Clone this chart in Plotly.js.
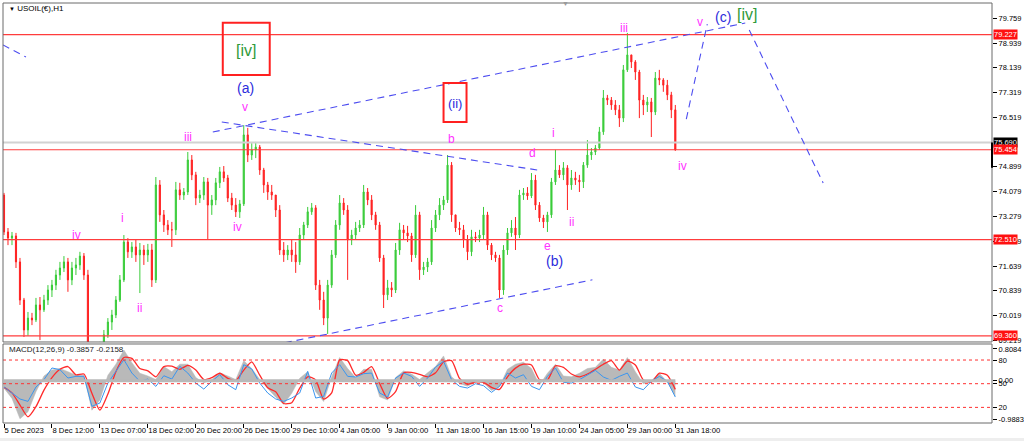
<!DOCTYPE html>
<html><head><meta charset="utf-8">
<script src="https://cdn.plot.ly/plotly-3.0.1.min.js"></script>
<style>html,body{margin:0;padding:0;background:#fff;}#chart{width:1024px;height:441px;}</style>
</head><body><div id="chart"></div>
<script>
// ---------- DATA ----------
const xTickLabels = ['5 Dec 2023','8 Dec 12:00','13 Dec 07:00','18 Dec 02:00','20 Dec 20:00','26 Dec 15:00','29 Dec 10:00','4 Jan 05:00','9 Jan 00:00','11 Jan 18:00','16 Jan 15:00','19 Jan 10:00','24 Jan 05:00','29 Jan 00:00','31 Jan 18:00'];
const xTickBars = [0,12,24,36,48,60,72,84,96,108,120,132,144,156,168];

const open = [73.97,72.76,72.56,72.63,71.78,70.53,69.55,69.94,69.88,70.37,
70.21,70.53,70.86,71.02,71.35,71.58,71.78,71.19,71.58,71.68,
71.97,71.35,69.06,68.73,68.83,69.06,69.39,69.81,70.04,70.53,
71.19,72.43,72.11,72.27,72.01,72.17,72.01,72.17,71.19,74.30,
73.32,72.99,72.83,72.83,74.14,73.97,74.07,75.12,74.63,73.87,
73.97,74.40,73.64,73.81,74.37,74.73,74.53,73.87,73.64,73.42,
73.68,75.94,75.28,75.45,75.54,74.79,74.30,74.07,73.97,73.48,
72.17,72.01,72.17,72.01,71.78,72.66,72.99,73.42,73.55,71.02,
70.53,69.94,71.02,72.01,72.99,73.71,73.48,72.50,72.66,72.89,
72.99,74.07,73.81,73.32,72.99,71.91,70.70,70.93,70.86,72.17,
72.83,72.73,72.63,72.01,73.32,71.52,71.61,71.78,72.89,73.32,
73.64,73.81,74.95,73.32,72.89,72.83,72.50,72.11,72.60,72.56,
72.66,73.32,72.33,72.01,71.91,70.86,72.17,72.73,72.89,72.66,
73.97,74.04,73.94,74.46,73.64,73.22,73.09,73.32,74.40,74.79,
74.63,74.86,74.30,74.53,74.46,74.40,74.95,75.28,75.38,75.51,
76.04,77.15,77.08,76.92,76.76,76.49,78.07,78.56,78.33,78.00,
77.08,76.92,77.02,76.69,77.80,77.74,77.57,77.25,76.76];
const high = [74.04,72.89,72.76,72.73,71.91,70.60,70.14,70.11,70.60,70.63,
70.70,71.02,71.19,71.52,71.78,71.97,71.91,71.78,71.91,72.11,
72.07,71.52,69.13,68.90,69.16,69.55,69.94,70.21,70.66,71.35,
72.66,72.56,72.43,72.50,72.40,72.33,72.37,72.37,74.56,74.46,
73.48,73.15,73.09,74.40,74.37,74.20,75.38,75.28,74.73,74.14,
74.56,74.53,73.97,74.53,74.89,74.92,74.63,74.04,73.87,73.81,
76.26,76.17,75.67,75.71,75.61,74.86,74.40,74.30,73.97,73.64,
72.43,72.33,72.50,72.43,72.89,73.09,73.58,73.71,73.64,71.19,
70.80,71.19,72.17,73.15,73.97,73.87,73.64,72.83,73.09,73.15,
74.30,74.20,73.97,73.42,73.09,72.01,71.19,71.12,72.40,73.06,
72.99,72.96,72.73,73.64,73.42,71.78,71.91,73.15,73.48,73.87,
73.94,75.28,75.05,73.32,73.09,72.99,72.66,72.83,72.76,72.83,
73.58,73.42,72.40,72.11,72.01,72.33,72.89,73.15,73.25,74.14,
74.20,74.23,74.69,74.63,73.74,73.32,73.42,74.53,75.45,74.95,
75.05,74.95,74.79,74.73,74.63,75.05,75.77,75.51,75.61,76.20,
77.41,77.25,77.18,77.08,76.92,78.23,79.28,78.56,78.39,78.07,
77.25,77.18,77.15,78.00,78.07,77.80,77.74,77.35,76.92];
const low = [72.66,72.33,72.33,71.58,70.37,69.32,69.36,69.71,69.81,69.22,
70.14,70.37,70.63,70.86,71.19,71.45,70.80,71.02,71.35,71.52,
71.19,68.90,68.57,68.50,68.63,68.96,69.29,69.55,69.94,70.47,
71.12,71.91,71.91,71.78,70.76,71.68,71.78,70.96,71.09,73.09,
72.76,72.66,72.27,72.66,73.81,73.81,73.97,74.46,73.64,73.71,
73.81,72.50,73.32,73.64,74.20,74.40,73.74,73.48,73.25,73.22,
73.61,75.05,75.12,75.18,74.63,74.04,73.81,73.81,73.25,72.01,
71.78,71.84,71.78,71.42,71.68,72.50,72.89,73.32,70.86,70.21,
69.71,69.42,70.93,71.91,72.83,73.32,71.19,72.33,72.50,72.76,
72.89,73.64,73.15,72.83,71.78,70.27,70.53,70.63,70.76,72.01,
72.50,72.43,71.78,71.91,71.19,71.35,71.45,71.68,72.76,73.15,
73.48,73.71,73.09,72.76,72.66,72.24,71.84,71.97,72.43,72.43,
72.50,72.17,71.84,71.78,70.60,70.70,72.01,72.60,72.17,72.56,
73.81,73.81,73.87,73.48,73.09,72.89,72.76,73.22,74.30,74.53,
74.46,73.48,74.14,74.30,74.07,74.20,74.86,75.12,75.28,75.45,
75.94,76.92,76.76,76.59,76.20,76.36,78.00,78.13,77.74,76.49,
76.59,76.69,75.87,76.59,77.57,77.35,77.08,76.49,75.42];
const close = [72.76,72.56,72.63,71.78,70.53,69.55,69.94,69.88,70.37,70.21,
70.53,70.86,71.02,71.35,71.58,71.78,71.19,71.58,71.68,71.97,
71.35,69.06,68.73,68.83,69.06,69.39,69.81,70.04,70.53,71.19,
72.43,72.11,72.27,72.01,72.17,72.01,72.17,71.19,74.30,73.32,
72.99,72.83,72.83,74.14,73.97,74.07,75.12,74.63,73.87,73.97,
74.40,73.64,73.81,74.37,74.73,74.53,73.87,73.64,73.42,73.68,
75.94,75.28,75.45,75.54,74.79,74.30,74.07,73.97,73.48,72.17,
72.01,72.17,72.01,71.78,72.66,72.99,73.42,73.55,71.02,70.53,
69.94,71.02,72.01,72.99,73.71,73.48,72.50,72.66,72.89,72.99,
74.07,73.81,73.32,72.99,71.91,70.70,70.93,70.86,72.17,72.83,
72.73,72.63,72.01,73.32,71.52,71.61,71.78,72.89,73.32,73.64,
73.81,74.95,73.32,72.89,72.83,72.50,72.11,72.60,72.56,72.66,
73.32,72.33,72.01,71.91,70.86,72.17,72.73,72.89,72.66,73.97,
74.04,73.94,74.46,73.64,73.22,73.09,73.32,74.40,74.79,74.63,
74.86,74.30,74.53,74.46,74.40,74.95,75.28,75.38,75.51,76.04,
77.15,77.08,76.92,76.76,76.49,78.07,78.56,78.33,78.00,77.08,
76.92,77.02,76.69,77.80,77.74,77.57,77.25,76.76,75.45];

const priceTicks = [79.759,78.939,78.139,77.319,76.519,74.899,74.079,73.279,72.459,71.639,70.839,70.019,69.219];
const levelLines = [79.227,75.454,72.510,69.360];
const askLine = 75.690;

// MACD(12,26,9): main (histogram) and signal, one value every 2 bars
const macdMain = [-0.19,-0.45,-0.97,-0.79,-0.28,0.12,0.27,0.31,0.23,0.14,
0.14,-0.75,-0.49,0.14,0.42,0.78,0.46,0.19,0.12,0.03,
0.36,0.23,0.42,0.42,0.08,-0.05,0.03,0.20,0.12,0.03,
0.51,0.31,0.03,-0.19,-0.42,-0.60,-0.32,0.06,0.23,-0.28,
-0.53,0.10,0.59,0.31,0.08,0.29,0.29,-0.41,-0.49,0.08,
0.25,0.17,0.03,0.20,0.36,0.63,0.10,-0.07,-0.14,-0.03,
-0.05,-0.25,-0.15,0.29,0.42,0.47,0.31,-0.11,0.19,0.42,
0.12,0.10,0.19,0.31,0.34,0.55,0.34,0.27,0.59,0.23,
-0.08,0.00,0.19,-0.03,-0.39];
const macdSignal = [-0.17,-0.31,-0.62,-0.92,-0.66,-0.24,0.08,0.29,0.36,0.15,
0.17,-0.32,-0.75,-0.34,0.23,0.59,0.57,0.31,0.25,0.10,
0.36,0.37,0.29,0.39,0.27,0.03,0.08,0.19,0.06,0.00,
0.27,0.48,0.14,-0.18,-0.28,-0.58,-0.56,-0.19,0.10,0.02,
-0.47,-0.31,0.53,0.51,0.14,0.21,0.36,-0.07,-0.45,-0.28,
0.20,0.21,0.16,0.10,0.20,0.48,0.51,0.06,-0.09,-0.03,
-0.04,-0.17,-0.22,0.10,0.32,0.42,0.40,0.03,0.02,0.38,
0.34,0.17,0.10,0.17,0.29,0.42,0.51,0.27,0.50,0.40,
0.02,-0.04,0.19,0.14,-0.22];
// oscillator drawn in the same pane on a 0-100 scale
const oscLine = [45.8,38.2,30.6,27.6,45.8,55.1,69.9,67.8,57.2,59.3,
59.3,21.3,25.5,50.8,65.6,80.4,63.5,53.0,55.9,46.6,
60.1,55.9,72.0,63.5,50.8,43.2,53.0,61.4,48.7,42.4,
74.1,68.6,50.8,38.2,30.6,27.6,31.8,38.2,65.6,31.8,
33.9,63.5,74.1,59.3,58.5,62.7,63.5,38.2,33.1,57.2,
63.5,59.3,46.6,57.2,71.1,78.3,55.1,46.6,44.5,50.0,
47.5,39.0,46.6,63.5,57.2,61.4,46.6,42.4,59.3,69.9,
51.7,50.8,55.1,61.4,66.9,58.5,54.2,59.3,63.5,45.8,
42.4,53.0,59.3,53.0,33.1];
const oscLevels = [80,50,20];
const macdTicks = [0.8084,0,-0.9883];
const macdTickText = ['0.8084','0.00','-0.9883'];

// ---------- BUILD ----------
const FONT = 'Liberation Sans, Arial, sans-serif';
const bars = close.map((_, i) => i);
const macdBars = macdMain.map((_, k) => k * 2);
const lastBar = bars[bars.length - 1];

const traces = [
  {type:'scatter', mode:'lines', x:macdBars, y:macdMain, xaxis:'x', yaxis:'y2',
   fill:'tozeroy', fillcolor:'#b9b9b9', line:{color:'#b9b9b9', width:0.5}, hoverinfo:'skip'},
  {type:'candlestick', x:bars, open:open, high:high, low:low, close:close,
   xaxis:'x', yaxis:'y', whiskerwidth:0, hoverinfo:'skip',
   increasing:{line:{color:'#3acc3a',width:1}, fillcolor:'#3acc3a'},
   decreasing:{line:{color:'#ff2020',width:1}, fillcolor:'#ff2020'}},
  {type:'scatter', mode:'lines', x:macdBars, y:oscLine, xaxis:'x', yaxis:'y3',
   line:{color:'#3a96f0', width:1}, hoverinfo:'skip'},
  {type:'scatter', mode:'lines', x:macdBars, y:macdSignal, xaxis:'x', yaxis:'y2',
   line:{color:'#ff2a2a', width:1.3, shape:'spline', smoothing:0.6}, hoverinfo:'skip'}
];

const BLUE_DASH = {color:'#4d4df0', width:1.1, dash:'7px,5px'};
const shapes = [];
shapes.push({type:'line', xref:'paper', x0:0, x1:1, yref:'y', y0:askLine, y1:askLine, line:{color:'#d2d2d2', width:2}});
levelLines.forEach(v => shapes.push({type:'line', xref:'paper', x0:0, x1:1, yref:'y', y0:v, y1:v, line:{color:'#ff3c3c', width:1.2}}));
[[-0.25,78.885,5.5,78.49],[52.25,76.035,185.5,79.605],[54.5,76.363,133.5,74.79],
 [70.25,69.13,147.25,71.194],[170.75,76.46,176,79.57],[186.5,79.376,205,74.365]].forEach(s =>
  shapes.push({type:'line', xref:'x', yref:'y', x0:s[0], y0:s[1], x1:s[2], y1:s[3], line:BLUE_DASH}));
shapes.push({type:'rect', xref:'x', yref:'y', x0:54.75, x1:66.5, y0:77.90, y1:79.61, line:{color:'#ff2020', width:2}});
shapes.push({type:'rect', xref:'x', yref:'y', x0:110, x1:115.75, y0:76.36, y1:77.64, line:{color:'#ff2020', width:2}});
oscLevels.forEach(v => shapes.push({type:'line', xref:'paper', x0:0, x1:1, yref:'y3', y0:v, y1:v, line:{color:'#ff3030', width:1, dash:'3px,3px'}}));
shapes.push({type:'line', xref:'x', x0:0, x1:lastBar, yref:'y2', y0:0, y1:0, line:{color:'#b9b9b9', width:3}});
shapes.push({type:'rect', xref:'paper', x0:0, x1:1, yref:'y domain', y0:0, y1:1, line:{color:'#6b6b6b', width:1}});
shapes.push({type:'rect', xref:'paper', x0:0, x1:1, yref:'y2 domain', y0:0, y1:1, line:{color:'#6b6b6b', width:1}});
shapes.push({type:'line', xref:'paper', x0:1, x1:1, yref:'y', y0:askLine, y1:74.86, line:{color:'#000', width:2}});
shapes.push({type:'rect', xref:'paper', x0:-0.004, x1:1.04, yref:'paper', y0:-0.045, y1:-0.036, fillcolor:'#eeeeee', line:{width:0}});

const annotations = [];
function txt(t, x, y, color, size) {
  annotations.push({text:t, x:x, y:y, xref:'x', yref:'y', showarrow:false,
    xanchor:'center', yanchor:'middle', font:{family:FONT, size:size, color:color}});
}
const MAG = '#ff33ff', BLU = '#2c2cdc', GRN = '#2f9a3a';
txt('iv', 18.25, 72.66, MAG, 12);
txt('i', 29.75, 73.22, MAG, 12);
txt('ii', 34, 70.27, MAG, 12);
txt('iii', 46, 75.87, MAG, 12);
txt('iv', 58.5, 72.92, MAG, 12);
txt('v', 60.25, 76.85, MAG, 12);
txt('(a)', 60.5, 77.48, BLU, 14);
txt('[iv]', 60.6, 78.72, GRN, 16);
txt('b', 112, 75.81, MAG, 12);
txt('(ii)', 112.9, 76.97, BLU, 13);
txt('d', 132.25, 75.35, MAG, 12);
txt('c', 124, 70.27, MAG, 12);
txt('e', 136, 72.30, MAG, 12);
txt('(b)', 137.75, 71.81, BLU, 14);
txt('i', 137.5, 76.0, MAG, 12);
txt('ii', 142, 73.09, MAG, 12);
txt('iii', 155.25, 79.44, MAG, 12);
txt('iv', 169.75, 74.92, MAG, 12);
txt('v', 174.25, 79.64, MAG, 12);
txt('(c)', 180, 79.80, BLU, 14);
txt('[iv]', 186, 79.87, GRN, 16);

function tag(v, bg) {
  annotations.push({text:v.toFixed(3), xref:'paper', x:1, xshift:1, xanchor:'left', yref:'y', y:v, yanchor:'middle',
    showarrow:false, bgcolor:bg, borderpad:0, font:{family:FONT, size:7.5, color:'#fff'}});
}
tag(askLine, '#000');
levelLines.forEach(v => tag(v, '#ff1010'));

annotations.push({text:'<span style="font-size:6px">▼</span> USOIL(€),H1', xref:'paper', yref:'paper', x:0.004, y:0.986,
  xanchor:'left', yanchor:'middle', showarrow:false, font:{family:FONT, size:8, color:'#000'}});
annotations.push({text:'MACD(12,26,9) -0.3857 -0.2158', xref:'paper', yref:'paper', x:0.004, y:0.174,
  xanchor:'left', yanchor:'middle', showarrow:false, font:{family:FONT, size:8, color:'#222'}});
annotations.push({text:'▼', xref:'paper', yref:'paper', x:0.569, y:0.998, xanchor:'center', yanchor:'middle',
  showarrow:false, font:{family:FONT, size:7, color:'#9a9a9a'}});

const axisFont = {family:FONT, size:7.5, color:'#000'};
const xFont = {family:FONT, size:7.7, color:'#000'};
const layout = {
  width:1024, height:441,
  margin:{l:3, r:32, t:3, b:18, pad:0},
  paper_bgcolor:'#fff', plot_bgcolor:'#fff',
  showlegend:false, boxgap:0.6,
  font:{family:FONT, size:8, color:'#000'},
  xaxis:{domain:[0,1], anchor:'y2', range:[-0.25,247.25], showgrid:false, zeroline:false,
    tickmode:'array', tickvals:xTickBars, ticktext:xTickLabels, ticks:'outside', ticklen:4,
    tickcolor:'#000', tickangle:0, ticklabelposition:'outside right', tickfont:xFont,
    automargin:false, showline:false, rangeslider:{visible:false}, fixedrange:true},
  yaxis:{domain:[0.1929,1], anchor:'x', side:'right', range:[69.157,80.26], showgrid:false, zeroline:false,
    tickmode:'array', tickvals:priceTicks, ticktext:priceTicks.map(v => v.toFixed(3)),
    ticks:'outside', ticklen:4, tickcolor:'#000', tickfont:axisFont, showline:false, fixedrange:true, automargin:false},
  yaxis2:{domain:[0,0.1881], anchor:'x', side:'right', range:[-1.076,0.934], showgrid:false, zeroline:false,
    tickmode:'array', tickvals:macdTicks, ticktext:macdTickText,
    ticks:'outside', ticklen:4, tickcolor:'#000', tickfont:axisFont, showline:false, fixedrange:true, automargin:false},
  yaxis3:{overlaying:'y2', anchor:'x', side:'right', range:[0.2,100.3], showgrid:false, zeroline:false,
    tickmode:'array', tickvals:oscLevels, ticktext:oscLevels.map(String),
    ticks:'outside', ticklen:4, tickcolor:'#000', tickfont:axisFont, showline:false, fixedrange:true, automargin:false},
  shapes:shapes, annotations:annotations
};

Plotly.newPlot('chart', traces, layout, {staticPlot:true, displayModeBar:false});
</script>
</body></html>
